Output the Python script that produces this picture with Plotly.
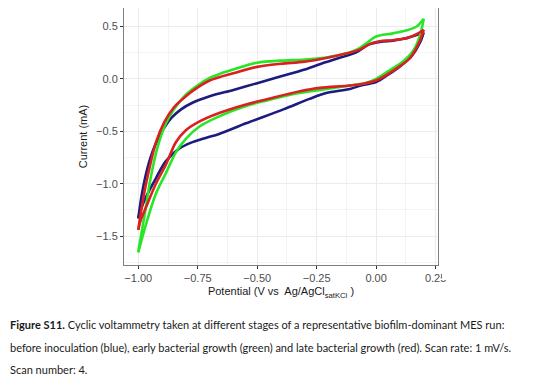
import plotly.graph_objects as go

# ---- data ----
blue_fwd_x = [-1.0, -0.985, -0.97, -0.95, -0.925, -0.895, -0.86, -0.82, -0.77, -0.70, -0.60, -0.50, -0.40, -0.30, -0.22, -0.15, -0.08, -0.03, 0.02, 0.07, 0.12, 0.17, 0.20]
blue_fwd_y = [-1.33, -1.10, -0.93, -0.76, -0.61, -0.48, -0.37, -0.29, -0.225, -0.165, -0.105, -0.04, 0.025, 0.09, 0.155, 0.205, 0.26, 0.33, 0.355, 0.365, 0.385, 0.42, 0.445]
blue_rev_x = [0.20, 0.185, 0.15, 0.10, 0.05, 0.0, -0.06, -0.11, -0.21, -0.28, -0.39, -0.547, -0.66, -0.72, -0.78, -0.828, -0.884, -0.926, -0.968, -0.99, -1.0]
blue_rev_y = [0.445, 0.35, 0.22, 0.12, 0.04, -0.03, -0.06, -0.095, -0.135, -0.19, -0.29, -0.423, -0.525, -0.565, -0.61, -0.665, -0.784, -0.948, -1.129, -1.25, -1.33]

green_fwd_x = [-1.0, -0.985, -0.97, -0.95, -0.92, -0.885, -0.85, -0.80, -0.75, -0.70, -0.65, -0.60, -0.50, -0.40, -0.30, -0.21, -0.14, -0.07, -0.03, 0.0, 0.07, 0.13, 0.17, 0.20]
green_fwd_y = [-1.654, -1.45, -1.25, -0.97, -0.66, -0.43, -0.29, -0.15, -0.06, 0.01, 0.055, 0.09, 0.155, 0.175, 0.185, 0.205, 0.235, 0.295, 0.36, 0.405, 0.435, 0.465, 0.50, 0.575]
green_rev_x = [0.20, 0.184, 0.155, 0.113, 0.058, 0.002, -0.04, -0.11, -0.208, -0.279, -0.36, -0.46, -0.547, -0.66, -0.744, -0.80, -0.842, -0.884, -0.926, -0.968, -1.0]
green_rev_y = [0.575, 0.413, 0.266, 0.167, 0.085, 0.003, -0.036, -0.062, -0.095, -0.118, -0.15, -0.205, -0.259, -0.357, -0.456, -0.571, -0.70, -0.899, -1.096, -1.39, -1.654]

red_fwd_x = [-1.0, -0.985, -0.97, -0.95, -0.925, -0.89, -0.85, -0.80, -0.75, -0.70, -0.60, -0.50, -0.40, -0.30, -0.20, -0.14, -0.07, -0.03, 0.015, 0.07, 0.13, 0.18, 0.20]
red_fwd_y = [-1.44, -1.22, -1.03, -0.82, -0.60, -0.41, -0.27, -0.165, -0.08, -0.015, 0.055, 0.115, 0.145, 0.165, 0.205, 0.235, 0.28, 0.33, 0.36, 0.37, 0.39, 0.44, 0.47]
red_rev_x = [0.20, 0.184, 0.142, 0.086, 0.002, -0.055, -0.12, -0.237, -0.321, -0.46, -0.547, -0.66, -0.744, -0.80, -0.842, -0.884, -0.926, -0.968, -0.99, -1.0]
red_rev_y = [0.47, 0.364, 0.20, 0.101, -0.013, -0.046, -0.065, -0.085, -0.118, -0.194, -0.243, -0.325, -0.407, -0.489, -0.604, -0.817, -1.0, -1.227, -1.35, -1.44]

x_ticks = [-1.0, -0.75, -0.5, -0.25, 0.0, 0.25]
x_tick_labels = ["\u22121.00", "\u22120.75", "\u22120.50", "\u22120.25", "0.00", "0.25"]
y_ticks = [-1.5, -1.0, -0.5, 0.0, 0.5]
y_tick_labels = ["\u22121.5", "\u22121.0", "\u22120.5", "0.0", "0.5"]

caption_lines = [
    "<b>Figure S11.</b> Cyclic voltammetry taken at different stages of a representative biofilm-dominant MES run:",
    "before inoculation (blue), early bacterial growth (green) and late bacterial growth (red). Scan rate: 1 mV/s.",
    "Scan number: 4.",
]

series = [
    ("before inoculation", "#1c1c7e", blue_fwd_x, blue_fwd_y, blue_rev_x, blue_rev_y),
    ("early bacterial growth", "#26e626", green_fwd_x, green_fwd_y, green_rev_x, green_rev_y),
    ("late bacterial growth", "#dc2020", red_fwd_x, red_fwd_y, red_rev_x, red_rev_y),
]

fig = go.Figure()
for name, color, fx, fy, rx, ry in series:
    for xs, ys in ((fx, fy), (rx, ry)):
        fig.add_trace(go.Scatter(x=xs, y=ys, mode="lines", name=name, showlegend=False,
                                 line=dict(color=color, width=2.6, shape="spline", smoothing=0.9)))

# The page body has an 8px margin, so the figure is drawn 8px smaller and
# every page-pixel position below is shifted by that offset.
OFF = 8
W, H = 537 - OFF, 381 - OFF
L, R, T, B = 124 - OFF, 99, 8 - OFF, 124 - OFF
pw, ph = W - L - R, H - T - B

def px2x(px):
    return (px - OFF - L) / pw

def py2y(py):
    return (H - B - (py - OFF)) / ph

axis_common = dict(
    showgrid=True, gridcolor="#ebebeb", gridwidth=1,
    zeroline=False, showline=True, linecolor="#7f7f7f", linewidth=1, mirror=True,
    ticks="outside", ticklen=3, tickcolor="#333333", tickwidth=1,
    tickfont=dict(family="Liberation Sans, Arial, sans-serif", size=11, color="#4d4d4d"),
)

fig.update_layout(
    width=W, height=H,
    margin=dict(l=L, r=R, t=T, b=B, pad=0),
    paper_bgcolor="white", plot_bgcolor="white",
    xaxis=dict(range=[-1.06, 0.26], tickvals=x_ticks, ticktext=x_tick_labels,
               minor=dict(showgrid=True, gridcolor="#f4f4f4", dtick=0.125, tick0=0),
               title=dict(text="Potential (V vs  Ag/AgCl<sub>satKCl</sub> )", standoff=4,
                          font=dict(family="Liberation Sans, Arial, sans-serif", size=11, color="#1a1a1a")),
               **axis_common),
    yaxis=dict(range=[-1.775, 0.677], tickvals=y_ticks, ticktext=y_tick_labels,
               minor=dict(showgrid=True, gridcolor="#f4f4f4", dtick=0.25, tick0=0),
               title=dict(text="Current (mA)", standoff=6,
                          font=dict(family="Liberation Sans, Arial, sans-serif", size=11, color="#1a1a1a")),
               **axis_common),
)

# crop edge of the original figure (cuts the last tick label)
fig.add_shape(type="rect", xref="paper", yref="paper", x0=px2x(442), x1=px2x(545),
              y0=py2y(280), y1=py2y(258), fillcolor="white", line=dict(width=0), layer="above")

for txt, py in zip(caption_lines, [324, 347, 369]):
    fig.add_annotation(text=txt, xref="paper", yref="paper", x=px2x(8), y=py2y(py),
                       xanchor="left", yanchor="middle", showarrow=False, align="left",
                       font=dict(family="Lato, Open Sans, sans-serif", size=11, color="#1a1a1a"))

fig.write_html("out.html")
